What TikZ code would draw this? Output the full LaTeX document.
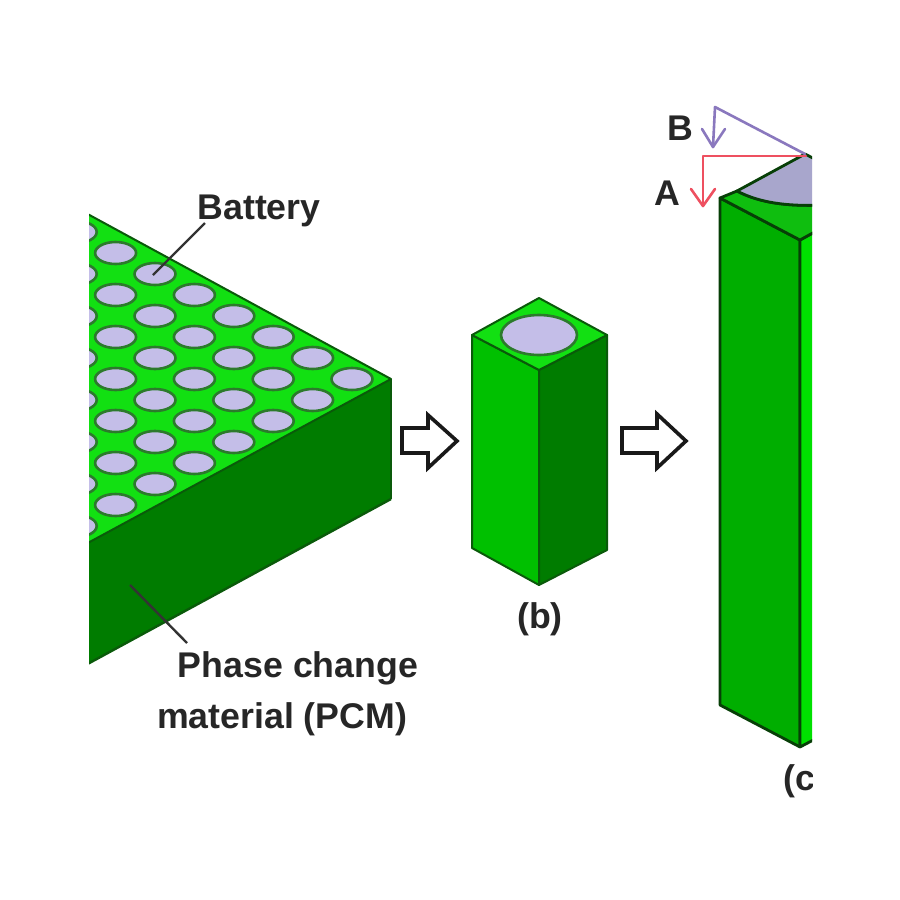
\documentclass[tikz,border=0pt]{standalone}
\usepackage{fontspec}
\setmainfont{Liberation Sans}
\definecolor{topg}{HTML}{12E012}
\definecolor{sideg}{HTML}{007C00}
\definecolor{edgeg}{HTML}{0A5A0A}
\definecolor{batt}{HTML}{C4BEE8}
\definecolor{ringg}{HTML}{2C7A2C}
\definecolor{leftg}{HTML}{00C000}
\definecolor{leftc}{HTML}{00AE00}
\definecolor{brightc}{HTML}{00E000}
\definecolor{topc}{HTML}{A8A6CC}
\definecolor{arrowred}{HTML}{EE5060}
\definecolor{arrowpur}{HTML}{8A78BE}
\tikzset{
  face/.style={line width=2pt,draw=edgeg,line join=round},
  cface/.style={line width=2.8pt,draw=black!30!edgeg,line join=round},
  cell/.style={fill=batt,draw=ringg,line width=2.6pt},
  lbl/.style={font=\fontsize{35.7}{43}\selectfont\bfseries,text=black!85,inner sep=0pt},
  leader/.style={line width=2.4pt,draw=black!80},
  blockarrow/.style={fill=white,draw=black!90,line width=3.6pt,line join=miter},
  dimline/.style={line width=2.6pt,line join=round,line cap=round}
}
\begin{document}
\begin{tikzpicture}[x=1pt,y=-1pt]
\useasboundingbox[fill=white] (0,0) rectangle (900,900);
% slab (a)
\begin{scope}
\clip (89,0) rectangle (900,900);
\coordinate (sTop) at (391,379);
\coordinate (sBot) at (391,499);
\fill[sideg] (sTop) -- (sBot) -- (60,679) -- (60,558) -- cycle;
\draw[face,line width=2.4pt] (sBot) -- (60,679);
\draw[face] (sTop) -- (sBot);
\fill[topg] (sTop) -- (60,199) -- (60,558) -- cycle;
\begin{scope}
\clip (sTop) -- (60,199) -- (60,558) -- cycle;
\foreach \i in {0,...,7}{
  \foreach \j in {0,...,\i}{
    \path[cell] ({352-39.4*\i},{379+21*\j*2-21*\i}) ellipse [x radius=20.5,y radius=11];
  }
}
\end{scope}
\draw[face] (60,199) -- (sTop) -- (60,558);
\end{scope}
% column (b)
\coordinate (bA) at (539,298);
\coordinate (bL) at (472,335);
\coordinate (bR) at (607,335);
\coordinate (bF) at (539,370);
\coordinate (bLb) at (472,548);
\coordinate (bB) at (539,585);
\coordinate (bRb) at (607,550);
\path[face,fill=leftg] (bL) -- (bF) -- (bB) -- (bLb) -- cycle;
\path[face,fill=sideg] (bR) -- (bF) -- (bB) -- (bRb) -- cycle;
\path[face,fill=topg] (bA) -- (bR) -- (bF) -- (bL) -- cycle;
\path[cell] (539,335) ellipse [x radius=38,y radius=20];
% block arrows
\path[blockarrow] (402,428) -- (428,428) -- (428,415) -- (457,441) -- (428,468) -- (428,453) -- (402,453) -- cycle;
\path[blockarrow] (622,428) -- (657,428) -- (657,414) -- (686,441) -- (657,468) -- (657,453) -- (622,453) -- cycle;
% column (c)
\begin{scope}
\clip (0,0) rectangle (812,900);
\coordinate (cL) at (720,198);
\coordinate (cF) at (800,240);
\coordinate (cLb) at (720,705);
\coordinate (cB) at (800,747);
\coordinate (cR) at (840,218);
\coordinate (cRb) at (840,726);
\coordinate (cA) at (805,154);
\coordinate (cQ) at (737,191);
\coordinate (cE) at (840,204);
\path[cface,fill=leftc] (cL) -- (cF) -- (cB) -- (cLb) -- cycle;
\path[cface,fill=brightc] (cF) -- (cR) -- (cRb) -- (cB) -- cycle;
\path[cface,fill=topg!85!black] (cL) -- (cQ) .. controls (760,203) and (790,208) .. (cE) -- (cR) -- (cF) -- cycle;
\path[cface,fill=topc] (cQ) -- (cA) -- (840,172) -- (cE) .. controls (790,208) and (760,203) .. (cQ) -- cycle;
% dimension arrows
\coordinate (rStart) at (806,156);
\coordinate (rCorner) at (703,156);
\coordinate (rTip) at (703,206);
\coordinate (pCorner) at (715,107);
\coordinate (pTip) at (713,147);
\draw[dimline,draw=arrowred] (rStart) -- (rCorner) -- (rTip);
\draw[dimline,draw=arrowred] (691,189) -- (rTip) -- (715,189);
\draw[dimline,draw=arrowpur] (cA) -- (pCorner) -- (pTip);
\draw[dimline,draw=arrowpur] (702,129) -- (pTip) -- (725,129);
\node[lbl] (labc) at (799,781) {(c};
\end{scope}
% labels and leaders
\node[lbl] (labBat) at (259,211) {Battery};
\node[lbl] (labB) at (680,128) {B};
\node[lbl] (labA) at (667,193) {A};
\node[lbl] (labb) at (540,619) {(b)};
\node[lbl] (labP) at (298,668) {Phase change};
\node[lbl] (labM) at (282,719) {material (PCM)};
\coordinate (batEnd) at (153,275);
\coordinate (batStart) at (205,223);
\coordinate (pcmEnd) at (130,585);
\coordinate (pcmStart) at (187,643);
\draw[leader] (batStart) -- (batEnd);
\draw[leader] (pcmStart) -- (pcmEnd);
\end{tikzpicture}
\end{document}
